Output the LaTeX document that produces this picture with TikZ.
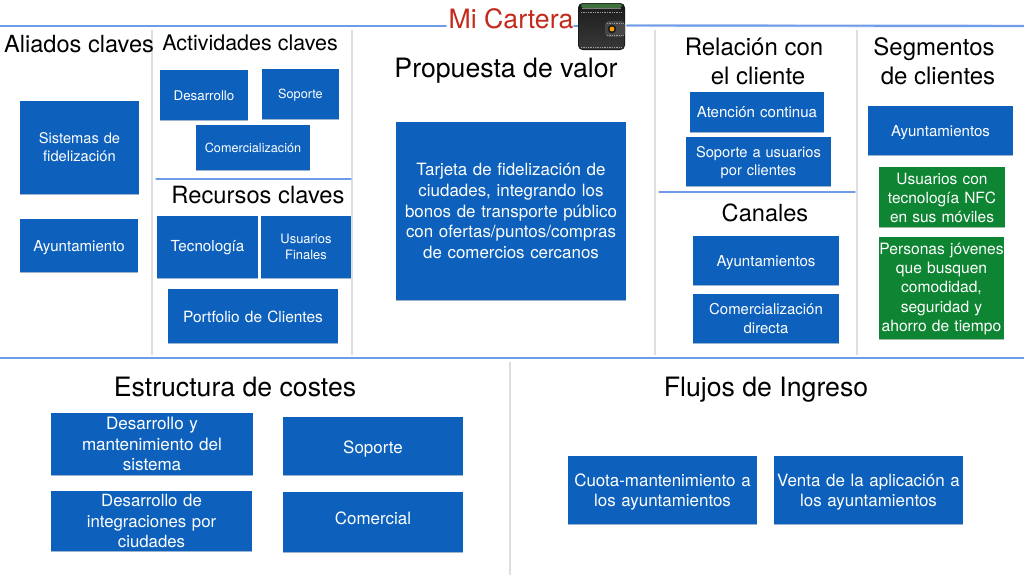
\documentclass[tikz,border=0pt]{standalone}
\usepackage{fontspec}
\setmainfont{TeX Gyre Heros}
\definecolor{boxblue}{HTML}{0D61BC}
\definecolor{boxgreen}{HTML}{0E8532}
\definecolor{rulegrey}{HTML}{DEDEDE}
\definecolor{ruleblue}{HTML}{6F9CE8}
\definecolor{titlered}{HTML}{C42A1C}
\newcommand{\setfs}[2]{\fontsize{#1}{#1}\selectfont\baselineskip=#2\baselineskip}
\tikzset{
  x=0.75pt,y=-0.75pt,
  cell/.style={inner sep=0pt,outer sep=0pt,align=center,text=white,font=\setfs{#1}{1.22}},
  head/.style={inner sep=0pt,align=center,text=black,font=\setfs{#1}{1.22}},
  greyrule/.style={draw=rulegrey,line width=1.5pt},
  bluerule/.style={draw=ruleblue,line width=1.4pt,line cap=round},
  palerule/.style={draw=ruleblue!35,line width=2.2pt,line cap=round},
  innerrule/.style={draw=ruleblue,line width=1.1pt,line cap=round},
  stitch/.style={draw=white!62!black,densely dotted,line width=.3pt},
}
% [text shift], name, x0, y0, x1, y1, colour, font size, text
\newcommand{\cellbox}[9][0]{%
  \fill[#7!70!black,opacity=.4] (#3,#4+1) rectangle (#5,#6+1);
  \fill[#7] (#3,#4) rectangle (#5,#6);
  \cellboxtext{#1}{#2}{#3}{#4}{#5}{#6}{#8}{#9}}
\newcommand{\cellboxtext}[8]{%
  \node[cell=#7,text width=(#5-#3)*0.75pt] (#2) at ({(#3+#5)/2},{(#4+#6)/2+#1}) {#8};}
\begin{document}
\begin{tikzpicture}
\useasboundingbox (0,0) rectangle (1024,576);
\fill[white] (0,0) rectangle (1024,576);
% rules
\foreach \x/\a/\b in {152/30/355,352/30/355,655/30/355,857/30/355,510/362/575}
  \draw[greyrule] (\x,\a) -- (\x,\b);
\draw[innerrule] (156,179) -- (351,179);
\draw[innerrule] (659,192) -- (855,192);
\draw[palerule] (0,26) -- (446,26);
\draw[palerule] (627,25.5) -- (1024,26);
\draw[palerule] (0,358) -- (1024,358);
\draw[bluerule] (0,26) -- (446,26);
\draw[bluerule] (574,26) -- (580,26);
\draw[bluerule] (627,25.5) -- (1024,26);
\draw[bluerule] (0,358) -- (1024,358);
% headings
\node[inner sep=0pt,text=titlered,font=\fontsize{20}{24}\selectfont] (title) at (511,19) {Mi Cartera};
\node[head=17.7] (aliados) at (79,44) {Aliados claves};
\node[head=16.1] (actividades) at (250,43) {Actividades claves};
\node[head=20] (propuesta) at (506,71) {Propuesta de valor};
\node[head=18] (relacion) at (754,61.5) {Relación con\\\hspace*{6pt}el cliente};
\node[head=18] (segmentos) at (934,61) {Segmentos\\\hspace*{6pt}de clientes};
\node[head=17.8] (recursos) at (258,195) {Recursos claves};
\node[head=17.7] (canales) at (765,213) {Canales};
\node[head=20] (estructura) at (235,387) {Estructura de costes};
\node[head=20] (flujos) at (766,390) {Flujos de Ingreso};
% boxes
\cellbox{a}{20}{101}{139}{194}{boxblue}{11}{Sistemas de\\fidelización}
\cellbox[2]{b}{20}{219}{138}{272}{boxblue}{11.3}{Ayuntamiento}
\cellbox[1]{c}{160}{70}{248}{120}{boxblue}{10}{Desarrollo}
\cellbox[1]{d}{262}{69}{339}{119}{boxblue}{9.5}{Soporte}
\cellbox[0]{e}{196}{125}{310}{170}{boxblue}{9.5}{Comercialización}
\cellbox[1]{f}{157}{216}{258}{278}{boxblue}{11.4}{Tecnología}
\cellbox{g}{261}{216}{351}{278}{boxblue}{9.7}{Usuarios\\Finales}
\cellbox[1]{h}{168}{289}{338}{343}{boxblue}{11.6}{Portfolio de Clientes}
\cellbox{i}{396}{122}{626}{300}{boxblue}{12.7}{Tarjeta de fidelización de\\ciudades, integrando los\\bonos de transporte público\\con ofertas/puntos/compras\\de comercios cercanos}
\cellbox[0]{j}{690}{92}{824}{132}{boxblue}{11.3}{Atención continua}
\cellbox[1]{k}{686}{137}{831}{186}{boxblue}{11}{Soporte a usuarios\\por clientes}
\cellbox[2]{l}{693}{236}{839}{285}{boxblue}{11.3}{Ayuntamientos}
\cellbox{m}{693}{294}{839}{343}{boxblue}{11.2}{Comercialización\\directa}
\cellbox[2]{n}{868}{106}{1013}{155}{boxblue}{11.3}{Ayuntamientos}
\cellbox[1]{o}{879}{167}{1005}{227}{boxgreen}{11.6}{Usuarios con\\tecnología NFC\\en sus móviles}
\cellbox[1]{p}{879}{237}{1004}{339}{boxgreen}{11.7}{Personas jóvenes\\que busquen\\comodidad,\\seguridad y\\ahorro de tiempo}
\cellbox{q}{51}{413}{253}{475}{boxblue}{12.8}{Desarrollo y\\mantenimiento del\\sistema}
\cellbox[3]{r}{283}{417}{463}{475}{boxblue}{12.7}{Soporte}
\cellbox[0]{s}{51}{491}{252}{551}{boxblue}{12.6}{Desarrollo de\\integraciones por\\ciudades}
\cellbox[-4]{t}{283}{492}{463}{552}{boxblue}{12.7}{Comercial}
\cellbox[2]{u}{568}{456}{757}{524}{boxblue}{12.7}{Cuota-mantenimiento a\\los ayuntamientos}
\cellbox[2]{v}{774}{456}{963}{524}{boxblue}{12.7}{Venta de la aplicación a\\los ayuntamientos}
% wallet
\fill[black!90,rounded corners=3.5pt] (578,3) rectangle (625,50);
\fill[green!25!black!75,rounded corners=2pt] (581,3.5) rectangle (622,8);
\fill[white!70!black] (582,7.6) rectangle (621,8.2);
\shade[top color=black!88,bottom color=black!78,rounded corners=3pt] (579,8.5) rectangle (624,49);
\draw[stitch] (581,12) -- (622,12);
\draw[stitch] (581,47) -- (622,47);
\fill[black!72,rounded corners=3pt] (605,21) rectangle (625,37);
\draw[stitch] (607,23) -- (624,23);
\draw[stitch] (607,35) -- (624,35);
\fill[black!90] (612,29) circle (3.2pt);
\fill[orange!75!yellow] (612,29) circle (1.8pt);
\end{tikzpicture}
\end{document}
